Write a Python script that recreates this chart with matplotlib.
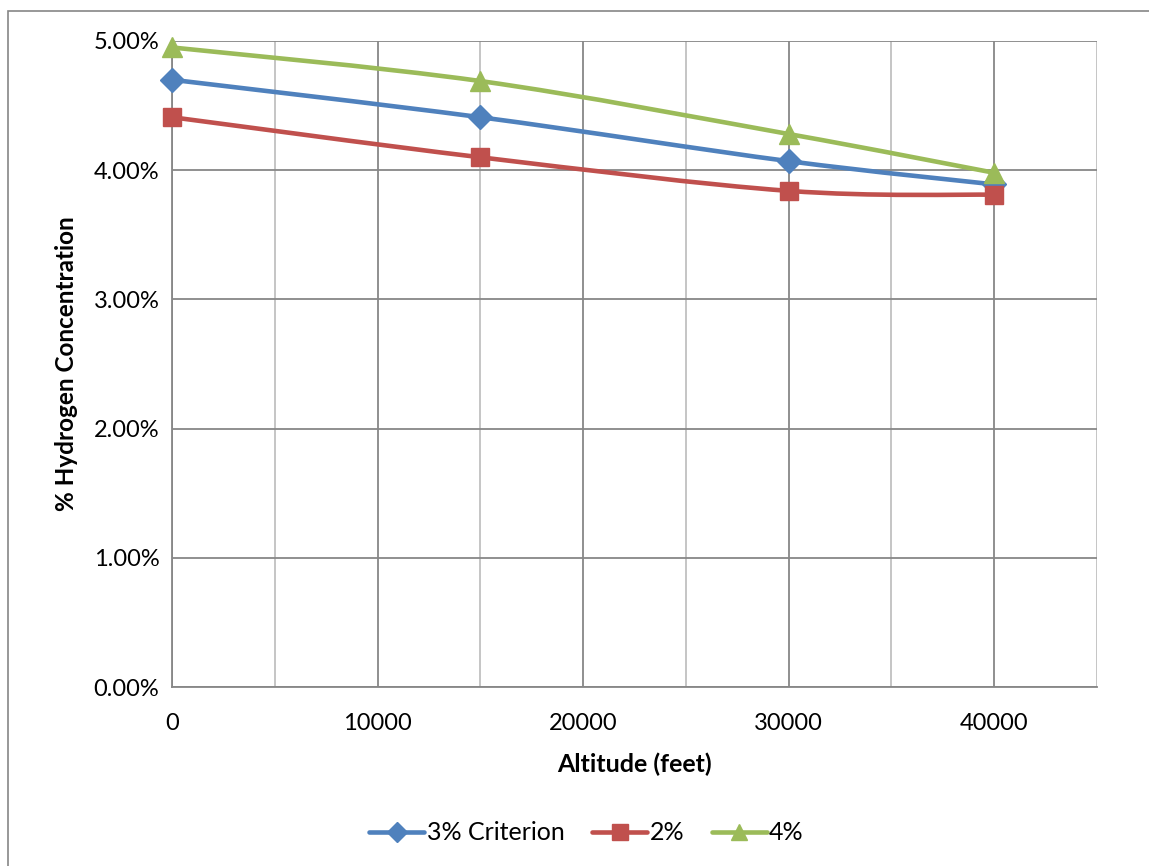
import matplotlib
matplotlib.use("Agg")
import matplotlib.pyplot as plt
from matplotlib.path import Path
from matplotlib.patches import PathPatch, Rectangle
from matplotlib.lines import Line2D
from matplotlib.ticker import FuncFormatter, MultipleLocator

plt.rcParams['font.family'] = ['Lato', 'DejaVu Sans']

altitude = [0, 15000, 30000, 40000]
crit3 = [4.70, 4.41, 4.07, 3.89]
pct2 = [4.41, 4.10, 3.84, 3.81]
pct4 = [4.95, 4.69, 4.28, 3.98]

series = [
    ("3% Criterion", crit3, "#4f81bd", "D", 12),
    ("2%", pct2, "#c0504d", "s", 13),
    ("4%", pct4, "#9bbb59", "^", 14),
]

fig = plt.figure(figsize=(11.49, 8.66), dpi=100)
ax = fig.add_axes([172/1149, 1-687/866, (1097-172)/1149, (687-41)/866])

# outer chart border
fig.patches.append(Rectangle((8/1149, -0.05), 1.2, 1-11/866+0.05, transform=fig.transFigure,
                             fill=False, edgecolor="#868686", linewidth=1.2))


def smooth_path(xs, ys):
    pts = list(zip(xs, ys))
    verts = [pts[0]]
    codes = [Path.MOVETO]
    n = len(pts)
    for i in range(n - 1):
        p0 = pts[i - 1] if i > 0 else pts[i]
        p1 = pts[i]
        p2 = pts[i + 1]
        p3 = pts[i + 2] if i + 2 < n else pts[i + 1]
        c1 = (p1[0] + (p2[0] - p0[0]) / 6, p1[1] + (p2[1] - p0[1]) / 6)
        c2 = (p2[0] - (p3[0] - p1[0]) / 6, p2[1] - (p3[1] - p1[1]) / 6)
        verts += [c1, c2, p2]
        codes += [Path.CURVE4] * 3
    return Path(verts, codes)


handles = []
for name, vals, col, mk, ms in series:
    patch = PathPatch(smooth_path(altitude, vals), facecolor="none", edgecolor=col,
                      linewidth=3.3, capstyle="round", joinstyle="round", zorder=3)
    ax.add_patch(patch)
    ax.plot(altitude, vals, linestyle="none", marker=mk, markersize=ms, color=col,
            markeredgecolor=col, zorder=4, clip_on=False)
    handles.append(Line2D([], [], color=col, linewidth=3.3, marker=mk, markersize=ms * 0.85,
                          markeredgecolor=col, solid_capstyle="round"))

ax.set_xlim(0, 45000)
ax.set_ylim(0, 5.0)
ax.xaxis.set_major_locator(MultipleLocator(10000))
ax.xaxis.set_minor_locator(MultipleLocator(5000))
ax.yaxis.set_major_locator(MultipleLocator(1.0))
ax.yaxis.set_major_formatter(FuncFormatter(lambda v, p: f"{v:.2f}%"))
ax.grid(True, which="major", color="#878787", linewidth=1.3)
ax.grid(True, which="minor", axis="x", color="#c0c0c0", linewidth=1.3)
ax.set_axisbelow(True)
for s in ["top", "right"]:
    ax.spines[s].set_visible(False)
for s in ["left", "bottom"]:
    ax.spines[s].set_color("#878787")
    ax.spines[s].set_linewidth(1.3)
ax.tick_params(which="both", length=0, labelsize=17, colors="black")
ax.tick_params(axis="x", pad=19)
ax.tick_params(axis="y", pad=9)

ax.set_xlabel("Altitude (feet)", fontsize=18, fontweight="bold", labelpad=13)
ax.set_ylabel("% Hydrogen Concentration", fontsize=17.5, fontweight="bold", labelpad=11)

fig.legend(handles, [s[0] for s in series], loc="center",
           bbox_to_anchor=(0.5 + 12/1149, 1-833/866),
           ncol=3, frameon=False, fontsize=18, handlelength=2.2, handletextpad=0.1,
           columnspacing=1.1)

fig.savefig("out.png", dpi=100)
